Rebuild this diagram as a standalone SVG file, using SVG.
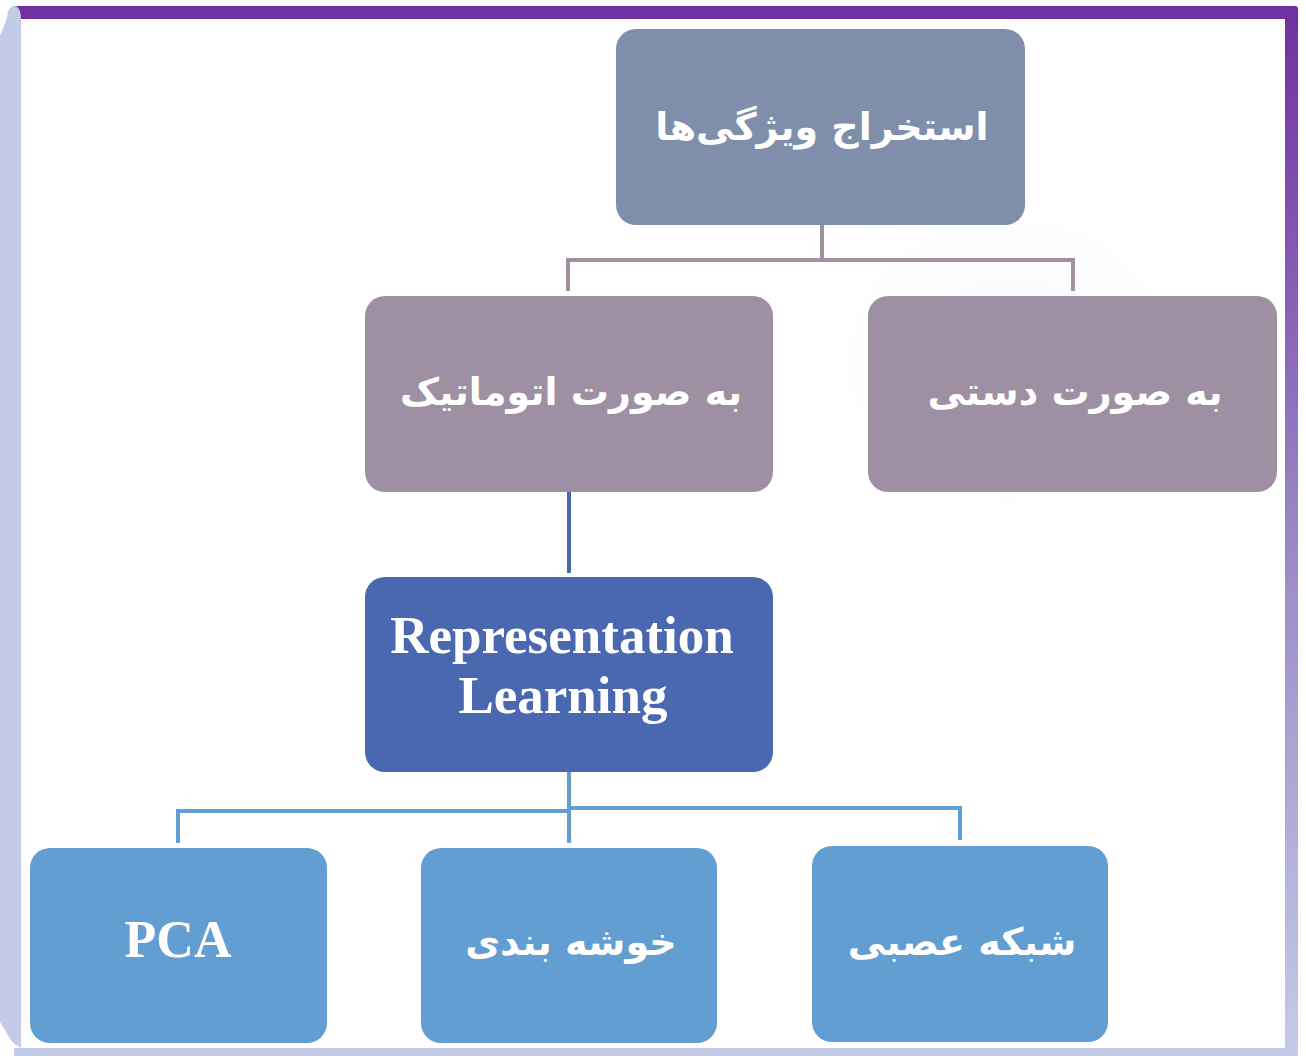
<svg xmlns="http://www.w3.org/2000/svg" width="1306" height="1056" viewBox="0 0 1306 1056">
  <defs>
    <linearGradient id="rightEdge" x1="0" y1="0" x2="0" y2="1">
      <stop offset="0" stop-color="#7030a0"/>
      <stop offset="0.5" stop-color="#9a86c6"/>
      <stop offset="1" stop-color="#c3cbe6"/>
    </linearGradient>
    <radialGradient id="glow" cx="0.5" cy="0.5" r="0.5">
      <stop offset="0" stop-color="#f1f3f9" stop-opacity="0.8"/>
      <stop offset="1" stop-color="#ffffff" stop-opacity="0"/>
    </radialGradient>
    <style>
      .fa { font-family: "DejaVu Sans", "Noto Sans", sans-serif; font-weight: bold; fill: #ffffff; text-anchor: middle; direction: rtl; font-size: 38px; }
      .en { font-family: "Liberation Serif", "Times New Roman", serif; font-weight: bold; fill: #ffffff; text-anchor: middle; }
      .top { fill: #7f8fab; }
      .mid { fill: #9e90a2; }
      .rep { fill: #4a68af; }
      .leaf { fill: #629ed1; }
      .c1 { stroke: #a090a0; }
      .c2 { stroke: #4a68af; }
      .c3 { stroke: #629ed1; }
      #connectors path { fill: none; stroke-width: 4; }
    </style>
  </defs>

  <!-- page background with soft highlights -->
  <rect x="0" y="0" width="1306" height="1056" fill="#ffffff"/>
  <ellipse cx="1010" cy="360" rx="230" ry="200" fill="url(#glow)"/>

  <!-- frame -->
  <g id="frame">
    <rect x="12" y="6" width="1285" height="13" rx="3" fill="#7030a0"/>
    <rect x="1285" y="6" width="13" height="1050" rx="3" fill="url(#rightEdge)"/>
    <rect x="14" y="1048" width="1284" height="8" fill="#c3cbe6"/>
    <path d="M21 1048 L21 20 Q21 6 14 6 Q8 6 7 18 L0 36 L0 1022 L12 1042 L21 1048 Z" fill="#c3cbe6"/>
  </g>

  <!-- connectors -->
  <g id="connectors">
    <path class="c1" d="M822 225 V260 M568 291 V260 H1073 V291"/>
    <path class="c2" d="M569 492 V573"/>
    <path class="c3" d="M569 772 V843 M178 843 V811 H569 M569 808 H960 V840"/>
  </g>

  <!-- nodes -->
  <g id="node-feature-extraction">
    <rect class="top" x="616" y="29" width="409" height="196" rx="20"/>
    <text class="fa" x="822" y="140">استخراج ویژگی&#x200C;ها</text>
  </g>
  <g id="node-automatic">
    <rect class="mid" x="365" y="296" width="408" height="196" rx="20"/>
    <text class="fa" x="571" y="405">به صورت اتوماتیک</text>
  </g>
  <g id="node-manual">
    <rect class="mid" x="868" y="296" width="409" height="196" rx="20"/>
    <text class="fa" x="1075" y="405">به صورت دستی</text>
  </g>
  <g id="node-representation">
    <rect class="rep" x="365" y="577" width="408" height="195" rx="20"/>
    <text class="en" x="562" y="653" font-size="53">Representation</text>
    <text class="en" x="563" y="713" font-size="53">Learning</text>
  </g>
  <g id="node-pca">
    <rect class="leaf" x="30" y="848" width="297" height="195" rx="20"/>
    <text class="en" x="178" y="957" font-size="52">PCA</text>
  </g>
  <g id="node-clustering">
    <rect class="leaf" x="421" y="848" width="296" height="195" rx="20"/>
    <text class="fa" x="571" y="955">خوشه بندی</text>
  </g>
  <g id="node-neural-net">
    <rect class="leaf" x="812" y="846" width="296" height="196" rx="20"/>
    <text class="fa" x="962" y="955">شبکه عصبی</text>
  </g>
</svg>
